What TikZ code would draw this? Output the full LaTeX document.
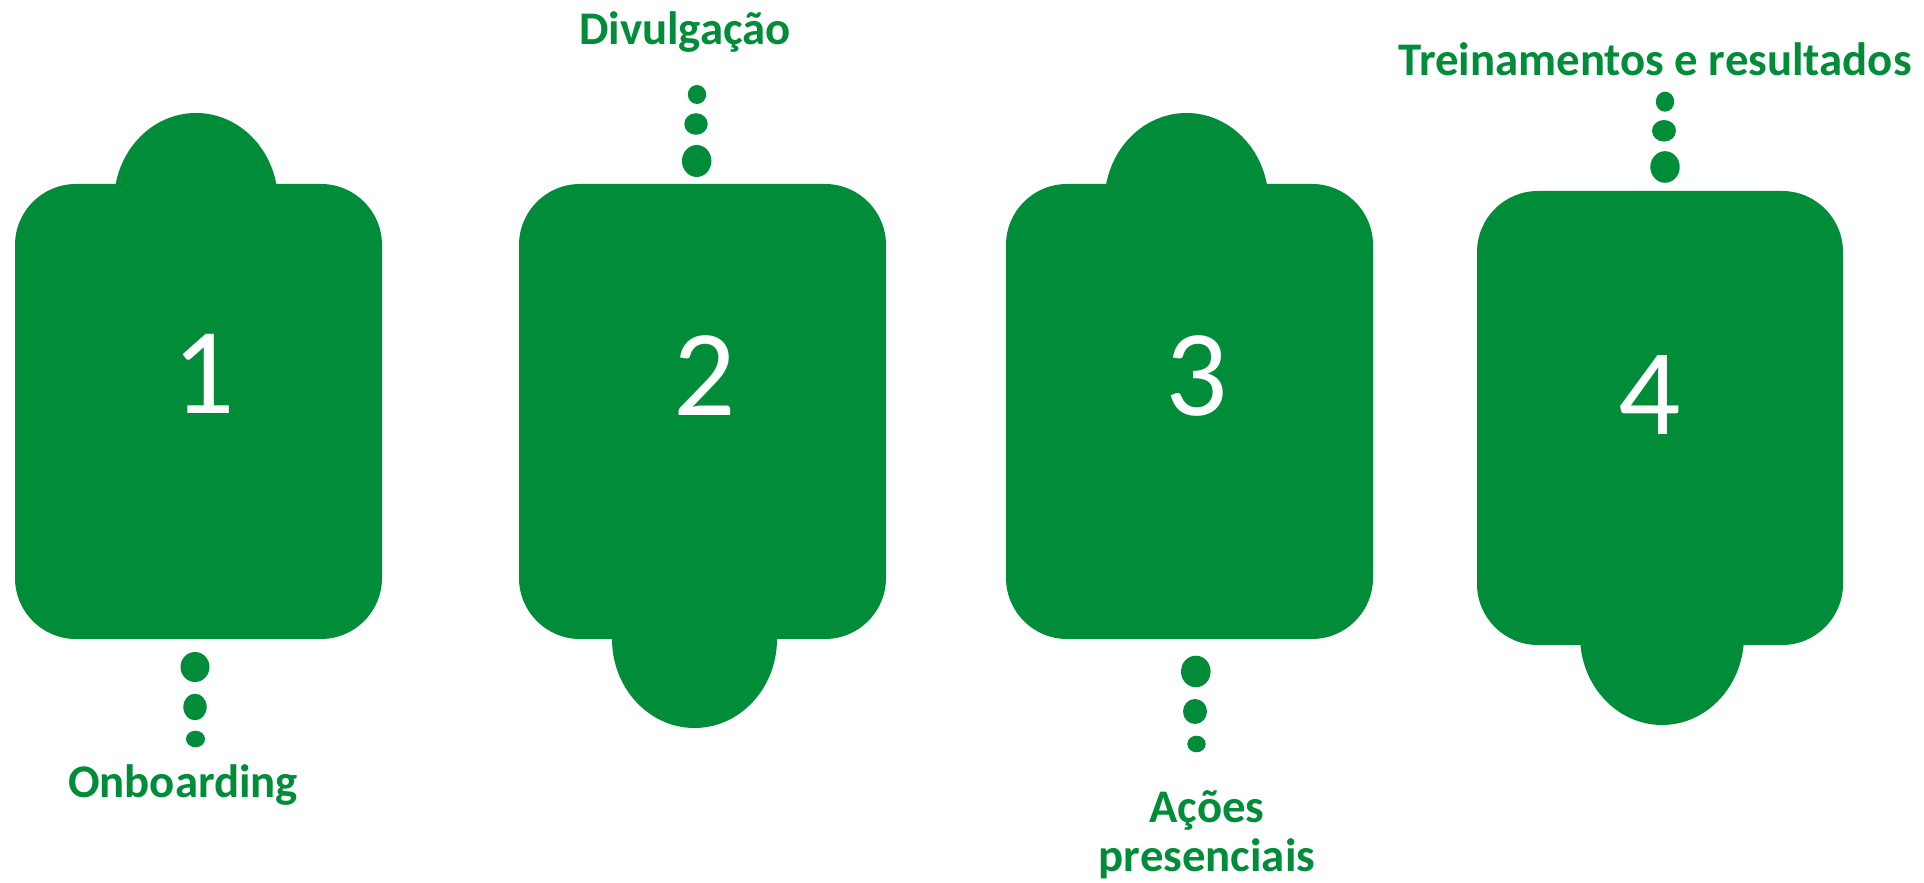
\documentclass[tikz,border=0pt]{standalone}
\usepackage{fontspec}
\setmainfont{Carlito}
\definecolor{stepgreen}{RGB}{0,140,56}
\tikzset{
  card/.style={fill=stepgreen, rounded corners=0.61cm},
  num/.style={text=white, font=\fontsize{35}{40}\selectfont, inner sep=0pt},
  caption/.style={text=stepgreen, font=\bfseries\fontsize{13.3}{14}\selectfont, inner sep=0pt, anchor=base, align=center}
}
\begin{document}
\begin{tikzpicture}[x=0.01cm, y=-0.01cm]
\useasboundingbox (0,0) rectangle (1924,883);

% Draw the cards
\fill[card] (15,184) rectangle (382,639);
\fill[stepgreen] (196,202) ellipse [x radius=82, y radius=89];
\fill[card] (519,184) rectangle (886,639);
\fill[stepgreen] (694.5,639) ellipse [x radius=82.5, y radius=89];
\fill[card] (1006,184) rectangle (1373,639);
\fill[stepgreen] (1186.5,202) ellipse [x radius=82, y radius=89];
\fill[card] (1477,191) rectangle (1843,645);
\fill[stepgreen] (1662,636) ellipse [x radius=82, y radius=89];

% step numbers
\node[num] (n1) at (204,374) {1};
\node[num] (n2) at (705,376) {2};
\node[num] (n3) at (1197,376) {3};
\node[num] (n4) at (1650,395) {4};

% Draw the dots
\fill[stepgreen] (195,667) ellipse [x radius=14.5, y radius=15];
\fill[stepgreen] (195,707) ellipse [x radius=11.7, y radius=13.3];
\fill[stepgreen] (195.5,739) ellipse [x radius=9.5, y radius=8.3];

\fill[stepgreen] (697,94.5) ellipse [x radius=9.2, y radius=9.5];
\fill[stepgreen] (696,124) ellipse [x radius=11.7, y radius=10.8];
\fill[stepgreen] (696.7,161) ellipse [x radius=14.7, y radius=16];

\fill[stepgreen] (1195.8,671.5) ellipse [x radius=14.8, y radius=15.8];
\fill[stepgreen] (1195,711.5) ellipse [x radius=12, y radius=12.5];
\fill[stepgreen] (1196.5,744) ellipse [x radius=9.2, y radius=8.3];

\fill[stepgreen] (1665,101.7) ellipse [x radius=9.2, y radius=10];
\fill[stepgreen] (1664,130.8) ellipse [x radius=12, y radius=10.8];
\fill[stepgreen] (1665,167) ellipse [x radius=14.7, y radius=15.8];

% captions
\node[caption] (lab1) at (183,798) {Onboarding};
\node[caption] (lab2) at (685,45) {Divulgação};
\node[caption] (lab3) at (1207,872) {Ações\\presenciais};
\node[caption] (lab4) at (1655,76) {Treinamentos e resultados};

\end{tikzpicture}
\end{document}
